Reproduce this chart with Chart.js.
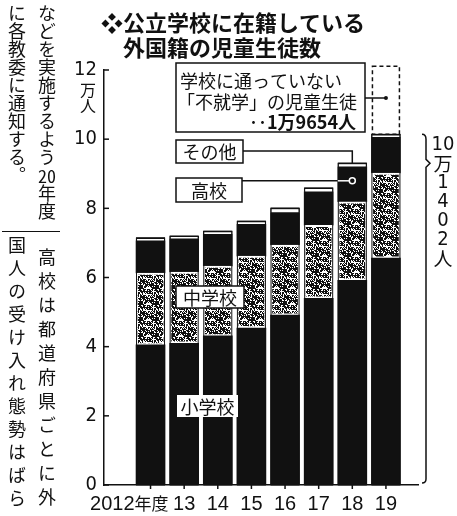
<!DOCTYPE html>
<html lang="ja">
<head>
<meta charset="utf-8">
<title>公立学校に在籍している外国籍の児童生徒数</title>
<script src="https://cdn.jsdelivr.net/npm/chart.js@4.4.1/dist/chart.umd.min.js"></script>
<style>
    html, body { margin: 0; padding: 0; background: #fff; }
    #wrap { position: relative; width: 457px; height: 516px; overflow: hidden; }
    #chart { position: absolute; left: 0; top: 0; }
    .col {
        position: absolute;
        writing-mode: vertical-rl;
        font-family: "Noto Sans CJK JP", sans-serif;
        font-size: 18px;
        line-height: 30px;
        color: #111;
        white-space: nowrap;
    }
    .tcy { text-combine-upright: all; }
    #rule { position: absolute; left: 2px; top: 231px; width: 58px; border-top: 1.5px solid #111; }
</style>
</head>
<body>
<div id="wrap">
    <canvas id="chart" width="457" height="516"></canvas>
    <div class="col" style="left:2px; top:4px;">などを実施するよう<span class="tcy">20</span>年度<br>に各教委に通知する。</div>
    <div id="rule"></div>
    <div class="col" style="left:32px; top:248px; letter-spacing:6px;">高校は都道府県ごとに外</div>
    <div class="col" style="left:2px; top:236px; letter-spacing:5px;">国人の受け入れ態勢はばら</div>
</div>
<script>
// 単位: 万人
const years = ['2012年度', '13', '14', '15', '16', '17', '18', '19'];
const elementary = [4.05, 4.10, 4.31, 4.54, 4.91, 5.40, 5.92, 6.56];   // 小学校
const juniorHigh = [2.08, 2.06, 2.02, 2.08, 2.03, 2.11, 2.27, 2.46];   // 中学校
const highSchool = [0.93, 0.96, 0.92, 0.92, 0.94, 0.97, 1.01, 1.03];   // 高校
const others = [0.09, 0.08, 0.09, 0.09, 0.13, 0.11, 0.11, 0.09];       // その他
const notEnrolled = [0, 0, 0, 0, 0, 0, 0, 1.9654];                     // 不就学
const yTicks = [0, 2, 4, 6, 8, 10, 12];

const JP = '"Noto Sans CJK JP", sans-serif';
const NUM = '"Liberation Sans Narrow", "DejaVu Sans Condensed", "Noto Sans CJK JP", sans-serif';
const ARIAL = '"Liberation Sans", Arial, sans-serif';
const INK = '#111';

// 中学校の網かけ（ざらっとした点描）
function makeStipple() {
    const n = 16;
    const c = document.createElement('canvas');
    c.width = n; c.height = n;
    const g = c.getContext('2d');
    for (let j = 0; j < n; j++) {
        for (let i = 0; i < n; i++) {
            const h = (i * 73 + j * 151 + i * j * 17 + (i ^ j) * 29) % 97;
            g.fillStyle = h < 36 ? '#fff' : INK;
            g.fillRect(i, j, 1, 1);
        }
    }
    return g.createPattern(c, 'repeat');
}

const pts = arr => arr.map((v, i) => ({ x: i, y: v }));

function label(ctx, text, x, y, w, h, border) {
    ctx.fillStyle = '#fff';
    ctx.fillRect(x, y, w, h);
    if (border) {
        ctx.strokeStyle = INK;
        ctx.lineWidth = 1.5;
        ctx.strokeRect(x, y, w, h);
    }
    ctx.fillStyle = INK;
    ctx.font = '18px ' + JP;
    ctx.textAlign = 'center';
    ctx.textBaseline = 'middle';
    ctx.fillText(text, x + w / 2, y + h / 2 + 1);
}

const annotate = {
    id: 'annotate',
    afterDatasetsDraw(chart) {
        // 各棒の細い黒枠
        const ctx = chart.ctx;
        const ys = chart.scales.y;
        ctx.save();
        ctx.strokeStyle = INK;
        ctx.lineWidth = 1;
        chart.getDatasetMeta(3).data.forEach(el => {
            const l = el.x - el.width / 2 + 0.5;
            ctx.strokeRect(l, el.y, el.width - 1, ys.bottom - el.y);
        });
        ctx.restore();
    },
    afterDraw(chart) {
        const ctx = chart.ctx;
        const xs = chart.scales.x, ys = chart.scales.y;
        ctx.save();

        // 目盛り
        ctx.strokeStyle = INK;
        ctx.lineWidth = 1.5;
        yTicks.forEach(v => {
            const py = ys.getPixelForValue(v);
            ctx.beginPath(); ctx.moveTo(xs.left, py); ctx.lineTo(xs.left + 5, py); ctx.stroke();
        });
        years.forEach((_, i) => {
            const px = xs.getPixelForValue(i);
            ctx.beginPath(); ctx.moveTo(px, ys.bottom); ctx.lineTo(px, ys.bottom + 4); ctx.stroke();
        });

        // 年度ラベル
        ctx.fillStyle = INK;
        ctx.textBaseline = 'alphabetic';
        const baseY = ys.bottom + 25;
        years.forEach((yr, i) => {
            const px = xs.getPixelForValue(i);
            if (i === 0) {
                ctx.textAlign = 'right';
                ctx.font = '17px ' + JP;
                ctx.fillText('年度', px + 18, baseY);
                const w = ctx.measureText('年度').width;
                ctx.font = '20px ' + ARIAL;
                ctx.fillText(yr.replace('年度', ''), px + 18 - w, baseY);
            } else {
                ctx.textAlign = 'center';
                ctx.font = '20px ' + ARIAL;
                ctx.fillText(yr, px, baseY);
            }
        });

        // 単位
        ctx.font = '16px ' + JP;
        ctx.textAlign = 'center';
        ctx.textBaseline = 'middle';
        ctx.fillText('万', 88, 90);
        ctx.fillText('人', 88, 106);

        // タイトル
        ctx.textAlign = 'left';
        ctx.font = 'bold 22px ' + JP;
        ctx.fillText('❖', 101, 23);
        ctx.fillText('公立学校に在籍している', 123, 23);
        ctx.fillText('外国籍の児童生徒数', 123, 48);

        // 不就学（点線の枠）
        const last = years.length - 1;
        const dash = chart.getDatasetMeta(4).data[last];
        ctx.setLineDash([4, 3]);
        ctx.lineWidth = 1.5;
        ctx.strokeRect(dash.x - dash.width / 2 + 1, dash.y, dash.width - 2, dash.base - dash.y);
        ctx.setLineDash([]);

        // 不就学ラベル
        const bx = 176, bw = 189;
        ctx.fillStyle = '#fff';
        ctx.fillRect(bx, 63, bw, 69);
        ctx.strokeRect(bx, 63, bw, 69);
        ctx.fillStyle = INK;
        ctx.font = '18px ' + JP;
        ctx.textAlign = 'left';
        ctx.fillText('学校に通っていない', bx + 4, 81);
        ctx.fillText('「不就学」の児童生徒', bx + 1, 102);
        ctx.textAlign = 'right';
        ctx.font = 'bold 18px ' + JP;
        ctx.fillText('‥1万9654人', bx + bw - 9, 122);
        const cx7 = xs.getPixelForValue(last);
        ctx.beginPath(); ctx.moveTo(bx + bw, 98); ctx.lineTo(cx7, 98); ctx.stroke();
        ctx.beginPath(); ctx.arc(cx7, 98, 2, 0, Math.PI * 2); ctx.fill();

        // その他
        const i18 = 6;
        const cx6 = xs.getPixelForValue(i18);
        const top18 = ys.getPixelForValue(elementary[i18] + juniorHigh[i18] + highSchool[i18] + others[i18]);
        label(ctx, 'その他', 176, 140, 67, 23, true);
        ctx.beginPath(); ctx.moveTo(243, 151); ctx.lineTo(cx6, 151); ctx.lineTo(cx6, top18); ctx.stroke();

        // 高校
        const hy = ys.getPixelForValue(elementary[i18] + juniorHigh[i18] + highSchool[i18] * 0.6);
        label(ctx, '高校', 176, 178, 66, 24, true);
        const barLeft = cx6 - 14.5;
        ctx.beginPath(); ctx.moveTo(242, hy); ctx.lineTo(barLeft, hy); ctx.stroke();
        ctx.strokeStyle = '#fff';
        ctx.beginPath(); ctx.moveTo(barLeft, hy); ctx.lineTo(cx6 - 3, hy); ctx.stroke();
        ctx.beginPath(); ctx.arc(cx6, hy, 3, 0, Math.PI * 2); ctx.stroke();
        ctx.strokeStyle = INK;

        // 中学校・小学校
        label(ctx, '中学校', 176, 286, 68, 22, true);
        label(ctx, '小学校', 177, 395, 61, 22, false);

        // 19年度の合計（中かっこ）
        const total19 = elementary[last] + juniorHigh[last] + highSchool[last] + others[last];
        const t = ys.getPixelForValue(total19);
        const b = ys.bottom - 2;
        const kx = xs.right + 8;
        const notch = t + 29;
        ctx.lineWidth = 1.5;
        ctx.beginPath();
        ctx.moveTo(kx - 4, t);
        ctx.quadraticCurveTo(kx, t, kx, t + 5);
        ctx.lineTo(kx, notch - 4);
        ctx.lineTo(kx + 4, notch);
        ctx.lineTo(kx, notch + 4);
        ctx.lineTo(kx, b - 4);
        ctx.quadraticCurveTo(kx, b, kx - 4, b);
        ctx.stroke();

        const chars = ['10', '万', '1', '4', '0', '2', '人'];
        ctx.textAlign = 'center';
        ctx.fillStyle = INK;
        chars.forEach((ch, k) => {
            ctx.font = (/\d/.test(ch) ? '20px ' + NUM : '19px ' + JP);
            ctx.fillText(ch, 443, t + 10 + k * 19);
        });

        ctx.restore();
    }
};

const ctx = document.getElementById('chart').getContext('2d');
const stipple = makeStipple();

new Chart(ctx, {
    type: 'bar',
    data: {
        datasets: [
            { label: '小学校', data: pts(elementary), backgroundColor: INK, borderWidth: 0 },
            { label: '中学校', data: pts(juniorHigh), backgroundColor: stipple, borderColor: '#fff', borderWidth: 2, borderSkipped: false },
            { label: '高校', data: pts(highSchool), backgroundColor: INK, borderWidth: 0 },
            { label: 'その他', data: pts(others), backgroundColor: '#fff', borderColor: INK,
              borderWidth: { top: 1.5, left: 1, right: 1, bottom: 0 }, borderSkipped: false },
            { label: '不就学', data: pts(notEnrolled), backgroundColor: 'rgba(0,0,0,0)', borderWidth: 0, clip: false }
        ]
    },
    options: {
        responsive: false,
        animation: false,
        events: [],
        datasets: { bar: { barThickness: 29 } },
        layout: { padding: { top: 70, right: 39, bottom: 0, left: 0 } },
        plugins: { legend: { display: false }, tooltip: { enabled: false } },
        scales: {
            x: {
                type: 'linear',
                stacked: true,
                min: -0.8,
                max: 7.37,
                afterBuildTicks: s => { s.ticks = years.map((_, i) => ({ value: i })); },
                afterFit: s => { s.height = 31; },
                grid: { display: false, drawTicks: false },
                border: { display: true, color: INK, width: 1.5 },
                ticks: { display: false }
            },
            y: {
                stacked: true,
                min: 0,
                max: 12,
                afterBuildTicks: s => { s.ticks = yTicks.map(v => ({ value: v })); },
                afterFit: s => { s.width = 104; },
                grid: { display: false, drawTicks: false },
                border: { display: true, color: INK, width: 1.5 },
                ticks: {
                    font: { family: NUM, size: 20 },
                    color: INK,
                    padding: 7
                }
            }
        }
    },
    plugins: [annotate]
});
</script>
</body>
</html>
